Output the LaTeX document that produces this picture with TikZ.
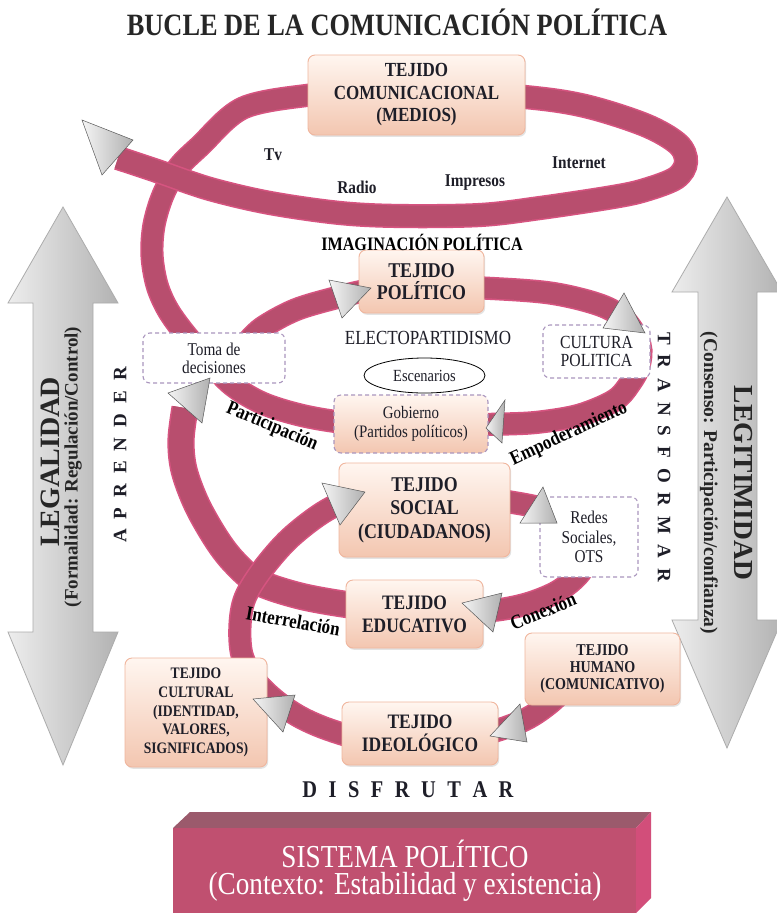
\documentclass[tikz,border=0pt]{standalone}
\usepackage{fontspec}
\setmainfont{Liberation Serif}[FakeStretch=0.85]
\newfontfamily\plainserif{Liberation Serif}
\usetikzlibrary{shapes.geometric,shadows}
\definecolor{ribmain}{RGB}{184,78,110}
\definecolor{ribedge}{RGB}{214,84,128}
\definecolor{boxtop}{RGB}{255,246,240}
\definecolor{boxbot}{RGB}{243,198,176}
\definecolor{boxline}{RGB}{240,182,158}
\definecolor{dashc}{RGB}{170,150,190}
\definecolor{sysfront}{RGB}{192,80,112}
\definecolor{systop}{RGB}{155,90,108}
\definecolor{sysside}{RGB}{210,78,122}
\definecolor{txt}{RGB}{30,30,40}
\newcommand{\fs}[2]{\fontsize{#1}{#2}\selectfont}
\begin{document}
\begin{tikzpicture}[x=1pt,y=-1pt,
  rib/.style={draw=ribedge, double=ribmain, double distance=#1, line width=1.6pt},
  tbox/.style={rounded corners=7pt, draw=boxline, line width=0.9pt, top color=boxtop, bottom color=boxbot, align=center, inner sep=1pt, text=txt, drop shadow={opacity=0.22, shadow xshift=1.2pt, shadow yshift=-1.8pt}},
  dbox/.style={rounded corners=7pt, draw=dashc, dash pattern=on 4pt off 3pt, line width=1.1pt, fill=white, align=center, inner sep=1pt, text=txt},
  gtri/.style={draw=gray!70!black, line width=0.5pt, left color=gray!8, right color=gray!62},
  bigarrow/.style={draw=gray!65, line width=0.8pt, left color=gray!14, right color=gray!60},
  lbl/.style={text=black, font=\bfseries\fs{20}{20}, inner sep=0pt},
]
\useasboundingbox (0,0) rectangle (777,914);
\fill[white] (0,0) rectangle (777,914);

% big side arrows
\draw[bigarrow] (63,207) -- (118,303) -- (93,303) -- (93,632) -- (118,632) -- (63,765) -- (8,632) -- (33,632) -- (33,303) -- (8,303) -- cycle;
\draw[bigarrow] (727,197) -- (782,292) -- (757,292) -- (757,620) -- (782,620) -- (727,748) -- (672,620) -- (698,620) -- (698,292) -- (672,292) -- cycle;

% ribbons
\draw[rib=20pt] plot[smooth, tension=0.55] coordinates {(245,345) (262,328) (295,310) (335,298) (370,290) (420,286) (483,288) (550,293) (600,305) (625,320) (640,345) (639,366) (631,382) (615,400) (580,415) (540,422) (505,424) (440,425) (380,424) (340,422) (300,415) (262,403) (232,385) (208,360) (186,335) (168,310) (157,285) (152,255) (154,225) (163,195) (178,168) (200,146) (243,108) (310,95) (340,94)};
\draw[rib=21pt] plot[smooth, tension=0.55] coordinates {(330,93) (420,90) (525,97) (585,106) (645,125) (678,144) (686,162) (676,178) (645,190) (613,197) (540,208) (480,215) (400,216) (340,213) (270,203) (210,189) (160,172) (118,158)};
\draw[rib=24pt] plot[smooth, tension=0.55] coordinates {(380,607) (350,605) (300,596) (258,582) (235,563) (217,540) (197,505) (184,470) (181,440) (185,408)};
\draw[rib=20pt] plot[smooth, tension=0.55] coordinates {(575,678) (550,703) (520,722) (470,738) (420,745) (370,741) (330,730) (300,717) (275,700) (255,680) (242,655) (240,625) (245,598) (262,570) (290,538) (327,510) (360,498) (424,495) (480,498) (510,502) (540,508) (570,520) (588,545) (582,570) (560,590) (530,603) (497,610) (460,612)};

% boxes
\node[tbox, minimum width=217pt, minimum height=80pt, font=\bfseries\fs{20}{22.5}] (com) at (416.5,95) {TEJIDO\\COMUNICACIONAL\\(MEDIOS)};
\node[tbox, minimum width=125pt, minimum height=63pt, font=\bfseries\fs{21}{22}] (pol) at (421.5,281.5) {TEJIDO\\POLÍTICO};
\node[tbox, minimum width=171pt, minimum height=94pt, font=\bfseries\fs{21}{23.5}] (soc) at (424.5,510) {TEJIDO\\SOCIAL\\(CIUDADANOS)};
\node[tbox, minimum width=137pt, minimum height=68pt, font=\bfseries\fs{20.5}{23}] (edu) at (414.5,614) {TEJIDO\\EDUCATIVO};
\node[tbox, minimum width=156pt, minimum height=63pt, font=\bfseries\fs{20.5}{23}] (ideo) at (420,733.5) {TEJIDO\\IDEOLÓGICO};
\node[tbox, minimum width=155pt, minimum height=72pt, font=\bfseries\fs{16.5}{17}] (hum) at (602.5,669) {TEJIDO\\HUMANO\\(COMUNICATIVO)};
\node[tbox, minimum width=142pt, minimum height=109pt, font=\bfseries\fs{16}{18.7}] (cul) at (196,712.5) {TEJIDO\\CULTURAL\\(IDENTIDAD,\\VALORES,\\SIGNIFICADOS)};

\node[dbox, minimum width=142pt, minimum height=50pt, font=\fs{18}{18}] (toma) at (214,358) {Toma de\\decisiones};
\node[dbox, minimum width=107pt, minimum height=53pt, font=\fs{18.5}{17.5}] (cpol) at (596.5,351.5) {CULTURA\\POLITICA};
\node[rounded corners=7pt, draw=dashc, dash pattern=on 4pt off 3pt, line width=1.1pt, top color=boxtop, bottom color=boxbot, align=center, inner sep=1pt, text=txt, minimum width=154pt, minimum height=58pt, font=\fs{17.5}{18.5}] (gob) at (411,424) {Gobierno\\(Partidos políticos)};
\node[dbox, minimum width=98pt, minimum height=80pt, font=\fs{18}{19.5}] (redes) at (589,537) {Redes\\Sociales,\\OTS};
\node[draw=black, line width=0.8pt, ellipse, fill=white, minimum width=121pt, minimum height=35pt, inner sep=0pt, text=txt, font=\fs{17}{17}] (esc) at (424.5,375.5) {Escenarios};

% gray arrowheads
\draw[gtri] (82,120) -- (133,140) -- (102,175) -- cycle;
\draw[gtri] (329,280) -- (371,288) -- (342,318) -- cycle;
\draw[gtri] (624,293) -- (645,333) -- (603,328) -- cycle;
\draw[gtri] (505,400) -- (502,443) -- (486,428) -- cycle;
\draw[gtri] (168,393) -- (210,378) -- (202,423) -- cycle;
\draw[gtri] (322,483) -- (365,492) -- (340,525) -- cycle;
\draw[gtri] (543,487) -- (557,523) -- (520,523) -- cycle;
\draw[gtri] (462,603) -- (502,593) -- (493,632) -- cycle;
\draw[gtri] (253,699) -- (295,695) -- (283,732) -- cycle;
\draw[gtri] (520,704) -- (527,742) -- (490,736) -- cycle;

% sistema politico block
\fill[systop] (173,828) -- (190,812) -- (651,812) -- (636,828) -- cycle;
\fill[sysside] (636,828) -- (651,812) -- (651,898) -- (636,913) -- cycle;
\node[fill=sysfront, minimum width=463pt, minimum height=85pt, inner sep=0pt, anchor=north west] (sys) at (173,828) {};
\node[text=white, font=\fs{32}{32}] (sys1) at (405,854) {SISTEMA POLÍTICO};
\node[text=white, font=\fs{32}{32}] (sys2) at (405,887) {(Contexto: Estabilidad y existencia)};

% texts
\node[font=\bfseries\fs{31}{31}, text=black!85] (title) at (397,22) {BUCLE DE LA COMUNICACIÓN POLÍTICA};
\node[font=\bfseries\fs{18}{18}, text=txt] (tv) at (273,155) {Tv};
\node[font=\bfseries\fs{18}{18}, text=txt] (radio) at (357,187) {Radio};
\node[font=\bfseries\fs{18}{18}, text=txt] (impr) at (475,183) {Impresos};
\node[font=\bfseries\fs{18}{18}, text=txt] (inet) at (579,163) {Internet};
\node[font=\bfseries\fs{19}{19}, text=black] (imag) at (422,242) {IMAGINACIÓN POLÍTICA};
\node[font=\fs{20}{20}, text=txt] (elec) at (428,338) {ELECTOPARTIDISMO};

\node[lbl, rotate=-23] (part) at (272,427) {Participación};
\node[lbl, rotate=25] (emp) at (569,434) {Empoderamiento};
\node[lbl, rotate=22] (con) at (543,611) {Conexión};
\node[lbl, rotate=-10] (int) at (293,621) {Interrelación};

\node[font=\plainserif\bfseries\fs{19}{19}, text=txt, rotate=90] (apr) at (120,455) {A\hspace{10pt}P\hspace{10pt}R\hspace{10pt}E\hspace{10pt}N\hspace{10pt}D\hspace{10pt}E\hspace{10pt}R};
\node[font=\plainserif\bfseries\fs{19}{19}, text=txt, rotate=-90] (trf) at (664,457) {T\hspace{10pt}R\hspace{10pt}A\hspace{10pt}N\hspace{10pt}S\hspace{10pt}F\hspace{10pt}O\hspace{10pt}R\hspace{10pt}M\hspace{10pt}A\hspace{10pt}R};
\node[font=\bfseries\fs{24}{24}, text=txt] (dis) at (408,790) {D\hspace{11.5pt}I\hspace{11.5pt}S\hspace{11.5pt}F\hspace{11.5pt}R\hspace{11.5pt}U\hspace{11.5pt}T\hspace{11.5pt}A\hspace{11.5pt}R};

\node[font=\plainserif\bfseries\fs{28}{28}, text=black!85, rotate=90] (legal) at (50,462) {LEGALIDAD};
\node[font=\plainserif\bfseries\fs{19}{19}, text=black!85, rotate=90] (legalsub) at (73,467) {(Formalidad: Regulación/Control)};
\node[font=\plainserif\bfseries\fs{27.5}{27.5}, text=black!85, rotate=-90] (legit) at (743,483) {LEGITIMIDAD};
\node[font=\plainserif\bfseries\fs{19.5}{19.5}, text=black!85, rotate=-90] (legitsub) at (709,483) {(Consenso: Participación/confianza)};
\end{tikzpicture}
\end{document}
